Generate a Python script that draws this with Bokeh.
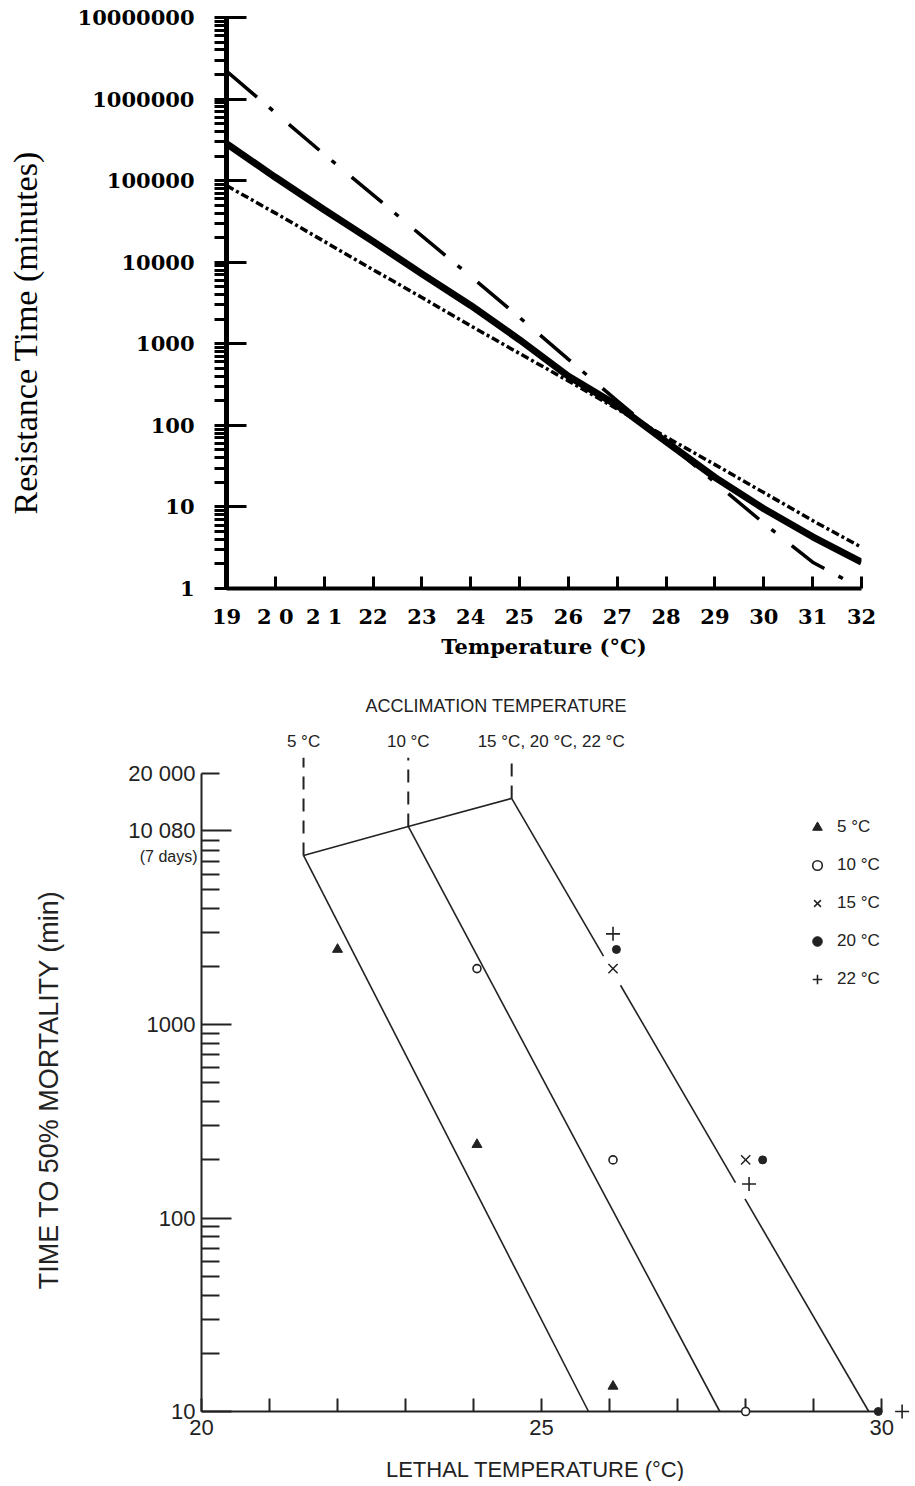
import numpy as np
from bokeh.plotting import figure
from bokeh.models import FixedTicker, Range1d, Legend, LegendItem
from bokeh.embed import file_html
from bokeh.resources import INLINE
from bokeh.core.properties import value

# ---------------- top chart data ----------------
top_temps = [19, 20, 21, 22, 23, 24, 25, 26, 27, 28, 29, 30, 31, 32]
top_solid = [285000, 110000, 44000, 18000, 7200, 2950, 1120, 400, 175, 63, 23, 9.5, 4.3, 2.1]
top_dashdot = [2200000, 680000, 210000, 67000, 21000, 6700, 2100, 645, 200, 63, 20, 6.3, 2.1, 1.0]
top_dotted = [87000, 40000, 18000, 8100, 3700, 1660, 760, 350, 158, 72, 33, 15, 6.8, 3.2]
top_xtick_labels = ["19", "2 0", "2 1", "22", "23", "24", "25", "26", "27", "28", "29", "30", "31", "32"]
top_ytick_values = [1, 10, 100, 1000, 10000, 100000, 1000000, 10000000]
top_ytick_labels = ["1", "10", "100", "1000", "10000", "100000", "1000000", "10000000"]

# ---------------- bottom chart data ----------------
accl_labels = ["5 °C", "10 °C", "15 °C, 20 °C, 22 °C"]
accl_T = [21.5, 23.04, 24.56]
accl_time = [7500, 10600, 14800]
accl_top = 24000
line_end_T = [25.69, 27.62, 29.81]
line_end_time = 10
line_gaps = [[], [], [(25.91, 26.16), (27.85, 27.99)]]

series_names = ["5 °C", "10 °C", "15 °C", "20 °C", "22 °C"]
s5_T, s5_t = [22.0, 24.05, 26.05], [2450, 240, 13.5]
s10_T, s10_t = [24.05, 26.05, 28.0], [1950, 200, 10]
s15_T, s15_t = [26.05, 28.0], [1950, 200]
s20_T, s20_t = [26.1, 28.25, 29.95], [2450, 200, 10]
s22_T, s22_t = [26.05, 28.05, 30.3], [2950, 150, 10]

bottom_ytick_values = [10, 100, 1000, 10080]
bottom_ytick_labels = ["10", "100", "1000", "10 080"]
bottom_ytop_value = 20000
bottom_ytop_label = "20 000"
bottom_xtick_values = [20, 25, 30]
bottom_xtick_labels = ["20", "25", "30"]

# ======================= TOP FIGURE =======================
SERIF_B = "DejaVu Serif"
p1 = figure(frame_width=635, frame_height=571,
            x_range=Range1d(19, 32), y_range=Range1d(1, 1e7), y_axis_type="log",
            min_border_left=226, min_border_right=50, min_border_top=17, min_border_bottom=69,
            output_backend="svg", toolbar_location=None, title=None)
p1.outline_line_color = None
p1.xgrid.visible = False
p1.ygrid.visible = False

p1.line(top_temps, top_dashdot, line_color="black", line_width=3.5, line_dash="40 16 5 21")
p1.line(top_temps, top_dotted, line_color="black", line_width=3.5, line_dash="8 3 3 3")
p1.line(top_temps, top_solid, line_color="black", line_width=7)

minor_top = [m * d for d in top_ytick_values[:-1] for m in range(2, 10)]
ya = p1.yaxis[0]
ya.ticker = FixedTicker(ticks=top_ytick_values, minor_ticks=minor_top)
ya.major_label_overrides = {v: s for v, s in zip(top_ytick_values, top_ytick_labels)}
ya.axis_line_width = 5
ya.major_tick_line_width = 3
ya.minor_tick_line_width = 3
ya.major_tick_in = 20
ya.major_tick_out = 12
ya.minor_tick_in = 0
ya.minor_tick_out = 12
ya.major_label_standoff = 20
ya.major_label_text_font = SERIF_B
ya.major_label_text_font_style = "bold"
ya.major_label_text_font_size = "21px"
ya.major_label_text_color = "black"

xa = p1.xaxis[0]
xa.ticker = FixedTicker(ticks=top_temps, minor_ticks=[])
xa.major_label_overrides = {v: s for v, s in zip(top_temps, top_xtick_labels)}
xa.axis_line_width = 4
xa.major_tick_line_width = 3
xa.major_tick_in = 12
xa.major_tick_out = 0
xa.minor_tick_in = 0
xa.minor_tick_out = 0
xa.major_label_standoff = 15
xa.major_label_text_font = SERIF_B
xa.major_label_text_font_style = "bold"
xa.major_label_text_font_size = "21px"
xa.major_label_text_color = "black"
xa.axis_label = "Temperature (°C)"
xa.axis_label_text_font = SERIF_B
xa.axis_label_text_font_style = "bold"
xa.axis_label_text_font_size = "21px"
xa.axis_label_text_color = "black"
xa.axis_label_standoff = 2

# y-axis title placed as text (overlay level so it is not clipped to the frame)
p1.text(x=[top_temps[0]], y=[1000], text=["Resistance Time (minutes)"], angle=np.pi / 2,
        text_align="center", text_baseline="middle", x_offset=-201, y_offset=-11,
        text_font=value("Liberation Serif"), text_font_size="34px", text_color="black",
        level="overlay")

# ======================= BOTTOM FIGURE =======================
SANS = "Liberation Sans"
INK = "#222222"
p2 = figure(frame_width=704, frame_height=746,
            x_range=Range1d(20, 30.35), y_range=Range1d(10, 72000), y_axis_type="log",
            min_border_left=201, min_border_right=7, min_border_top=4, min_border_bottom=70,
            output_backend="svg", toolbar_location=None, title=None)
p2.outline_line_color = None
p2.xgrid.visible = False
p2.ygrid.visible = False

# acclimation connecting line and dashed verticals
p2.line(accl_T, accl_time, line_color=INK, line_width=1.6)
p2.segment(x0=accl_T, y0=accl_time, x1=accl_T, y1=[accl_top] * len(accl_T),
           line_color=INK, line_width=2, line_dash="13 9")

# regression lines (with small breaks where the markers sit)
for T0, t0, T1, gaps in zip(accl_T, accl_time, line_end_T, line_gaps):
    pts = [T0] + [g for gap in gaps for g in gap] + [T1]
    lt = [np.log10(t0), np.log10(line_end_time)]
    xs, ys = [], []
    for a, b in zip(pts[0::2], pts[1::2]):
        xs.append([a, b])
        ys.append([10 ** np.interp(a, [T0, T1], lt), 10 ** np.interp(b, [T0, T1], lt)])
    p2.multi_line(xs, ys, line_color=INK, line_width=1.6)

# header labels
p2.text(x=accl_T[:2], y=[accl_top] * 2, text=accl_labels[:2], text_align="center",
        text_baseline="middle", y_offset=-16, text_font=value(SANS),
        text_font_size="17px", text_color=INK)
p2.text(x=[accl_T[2]], y=[accl_top], text=[accl_labels[2]], text_align="left",
        text_baseline="middle", x_offset=-34, y_offset=-16, text_font=value(SANS),
        text_font_size="17px", text_color=INK)
p2.text(x=[accl_T[1]], y=[accl_top], text=["ACCLIMATION TEMPERATURE"], text_align="center",
        text_baseline="middle", x_offset=88, y_offset=-52, text_font=value(SANS),
        text_font_size="18px", text_color=INK)

# data markers
r5 = p2.scatter(s5_T, s5_t, marker="triangle", size=10, fill_color=INK, line_color=INK, level="overlay")
r10 = p2.scatter(s10_T, s10_t, marker="circle", size=8, fill_color="white", line_color=INK,
                 line_width=1.6, level="overlay")
r15 = p2.scatter(s15_T, s15_t, marker="x", size=13, line_color=INK, line_width=1.5, level="overlay")
r20 = p2.scatter(s20_T, s20_t, marker="circle", size=8, fill_color=INK, line_color=INK, level="overlay")
r22 = p2.scatter(s22_T, s22_t, marker="cross", size=14, line_color=INK, line_width=1.6, level="overlay")

legend = Legend(items=[LegendItem(label=n, renderers=[r]) for n, r in
                       zip(series_names, [r5, r10, r15, r20, r22])],
                location=(604, 420), orientation="vertical")
legend.border_line_color = None
legend.background_fill_alpha = 0
legend.padding = 0
legend.margin = 0
legend.spacing = 14
legend.glyph_width = 24
legend.glyph_height = 24
legend.label_height = 24
legend.label_standoff = 8
legend.label_text_font = SANS
legend.label_text_font_size = "17px"
legend.label_text_color = INK
p2.add_layout(legend)

minor_bot = [m * d for d in [10, 100, 1000] for m in range(2, 10)] + [bottom_ytop_value]
ya2 = p2.yaxis[0]
ya2.ticker = FixedTicker(ticks=bottom_ytick_values, minor_ticks=minor_bot)
ya2.major_label_overrides = {v: s for v, s in zip(bottom_ytick_values, bottom_ytick_labels)}
ya2.bounds = (10, bottom_ytop_value)
ya2.axis_line_width = 2
ya2.axis_line_color = INK
ya2.major_tick_line_width = 2
ya2.minor_tick_line_width = 2
ya2.major_tick_line_color = INK
ya2.minor_tick_line_color = INK
ya2.major_tick_in = 30
ya2.major_tick_out = 0
ya2.minor_tick_in = 18
ya2.minor_tick_out = 0
ya2.major_label_standoff = 6
ya2.major_label_text_font = SANS
ya2.major_label_text_font_size = "22px"
ya2.major_label_text_color = INK

xa2 = p2.xaxis[0]
xa2.ticker = FixedTicker(ticks=bottom_xtick_values, minor_ticks=[21, 22, 23, 24, 26, 27, 28, 29])
xa2.major_label_overrides = {v: s for v, s in zip(bottom_xtick_values, bottom_xtick_labels)}
xa2.bounds = (20, 30)
xa2.axis_line_width = 2
xa2.axis_line_color = INK
xa2.major_tick_line_width = 2
xa2.minor_tick_line_width = 2
xa2.major_tick_line_color = INK
xa2.minor_tick_line_color = INK
xa2.major_tick_in = 13
xa2.major_tick_out = 0
xa2.minor_tick_in = 13
xa2.minor_tick_out = 0
xa2.major_label_standoff = 8
xa2.major_label_text_font = SANS
xa2.major_label_text_font_size = "22px"
xa2.major_label_text_color = INK

# top tick label, axis titles and the "(7 days)" note as text (overlay level: not clipped)
p2.text(x=[bottom_xtick_values[0]], y=[bottom_ytop_value], text=[bottom_ytop_label],
        text_align="right", text_baseline="middle", x_offset=-6, y_offset=0,
        text_font=value(SANS), text_font_size="22px", text_color=INK, level="overlay")
p2.text(x=[bottom_xtick_values[0]], y=[1000], text=["TIME TO 50% MORTALITY (min)"], angle=np.pi / 2,
        text_align="center", text_baseline="middle", x_offset=-153, y_offset=65,
        text_font=value(SANS), text_font_size="27px", text_color=INK, level="overlay")
p2.text(x=[bottom_xtick_values[1]], y=[bottom_ytick_values[0]], text=["LETHAL TEMPERATURE (°C)"],
        text_align="center", text_baseline="middle", x_offset=-6, y_offset=58,
        text_font=value(SANS), text_font_size="22px", text_color=INK, level="overlay")
p2.text(x=[bottom_xtick_values[0]], y=[bottom_ytick_values[3]], text=["(7 days)"],
        text_align="right", text_baseline="middle", x_offset=-4, y_offset=26,
        text_font=value(SANS), text_font_size="16px", text_color=INK, level="overlay")

open("out.html", "w").write(file_html([p1, p2], INLINE))
